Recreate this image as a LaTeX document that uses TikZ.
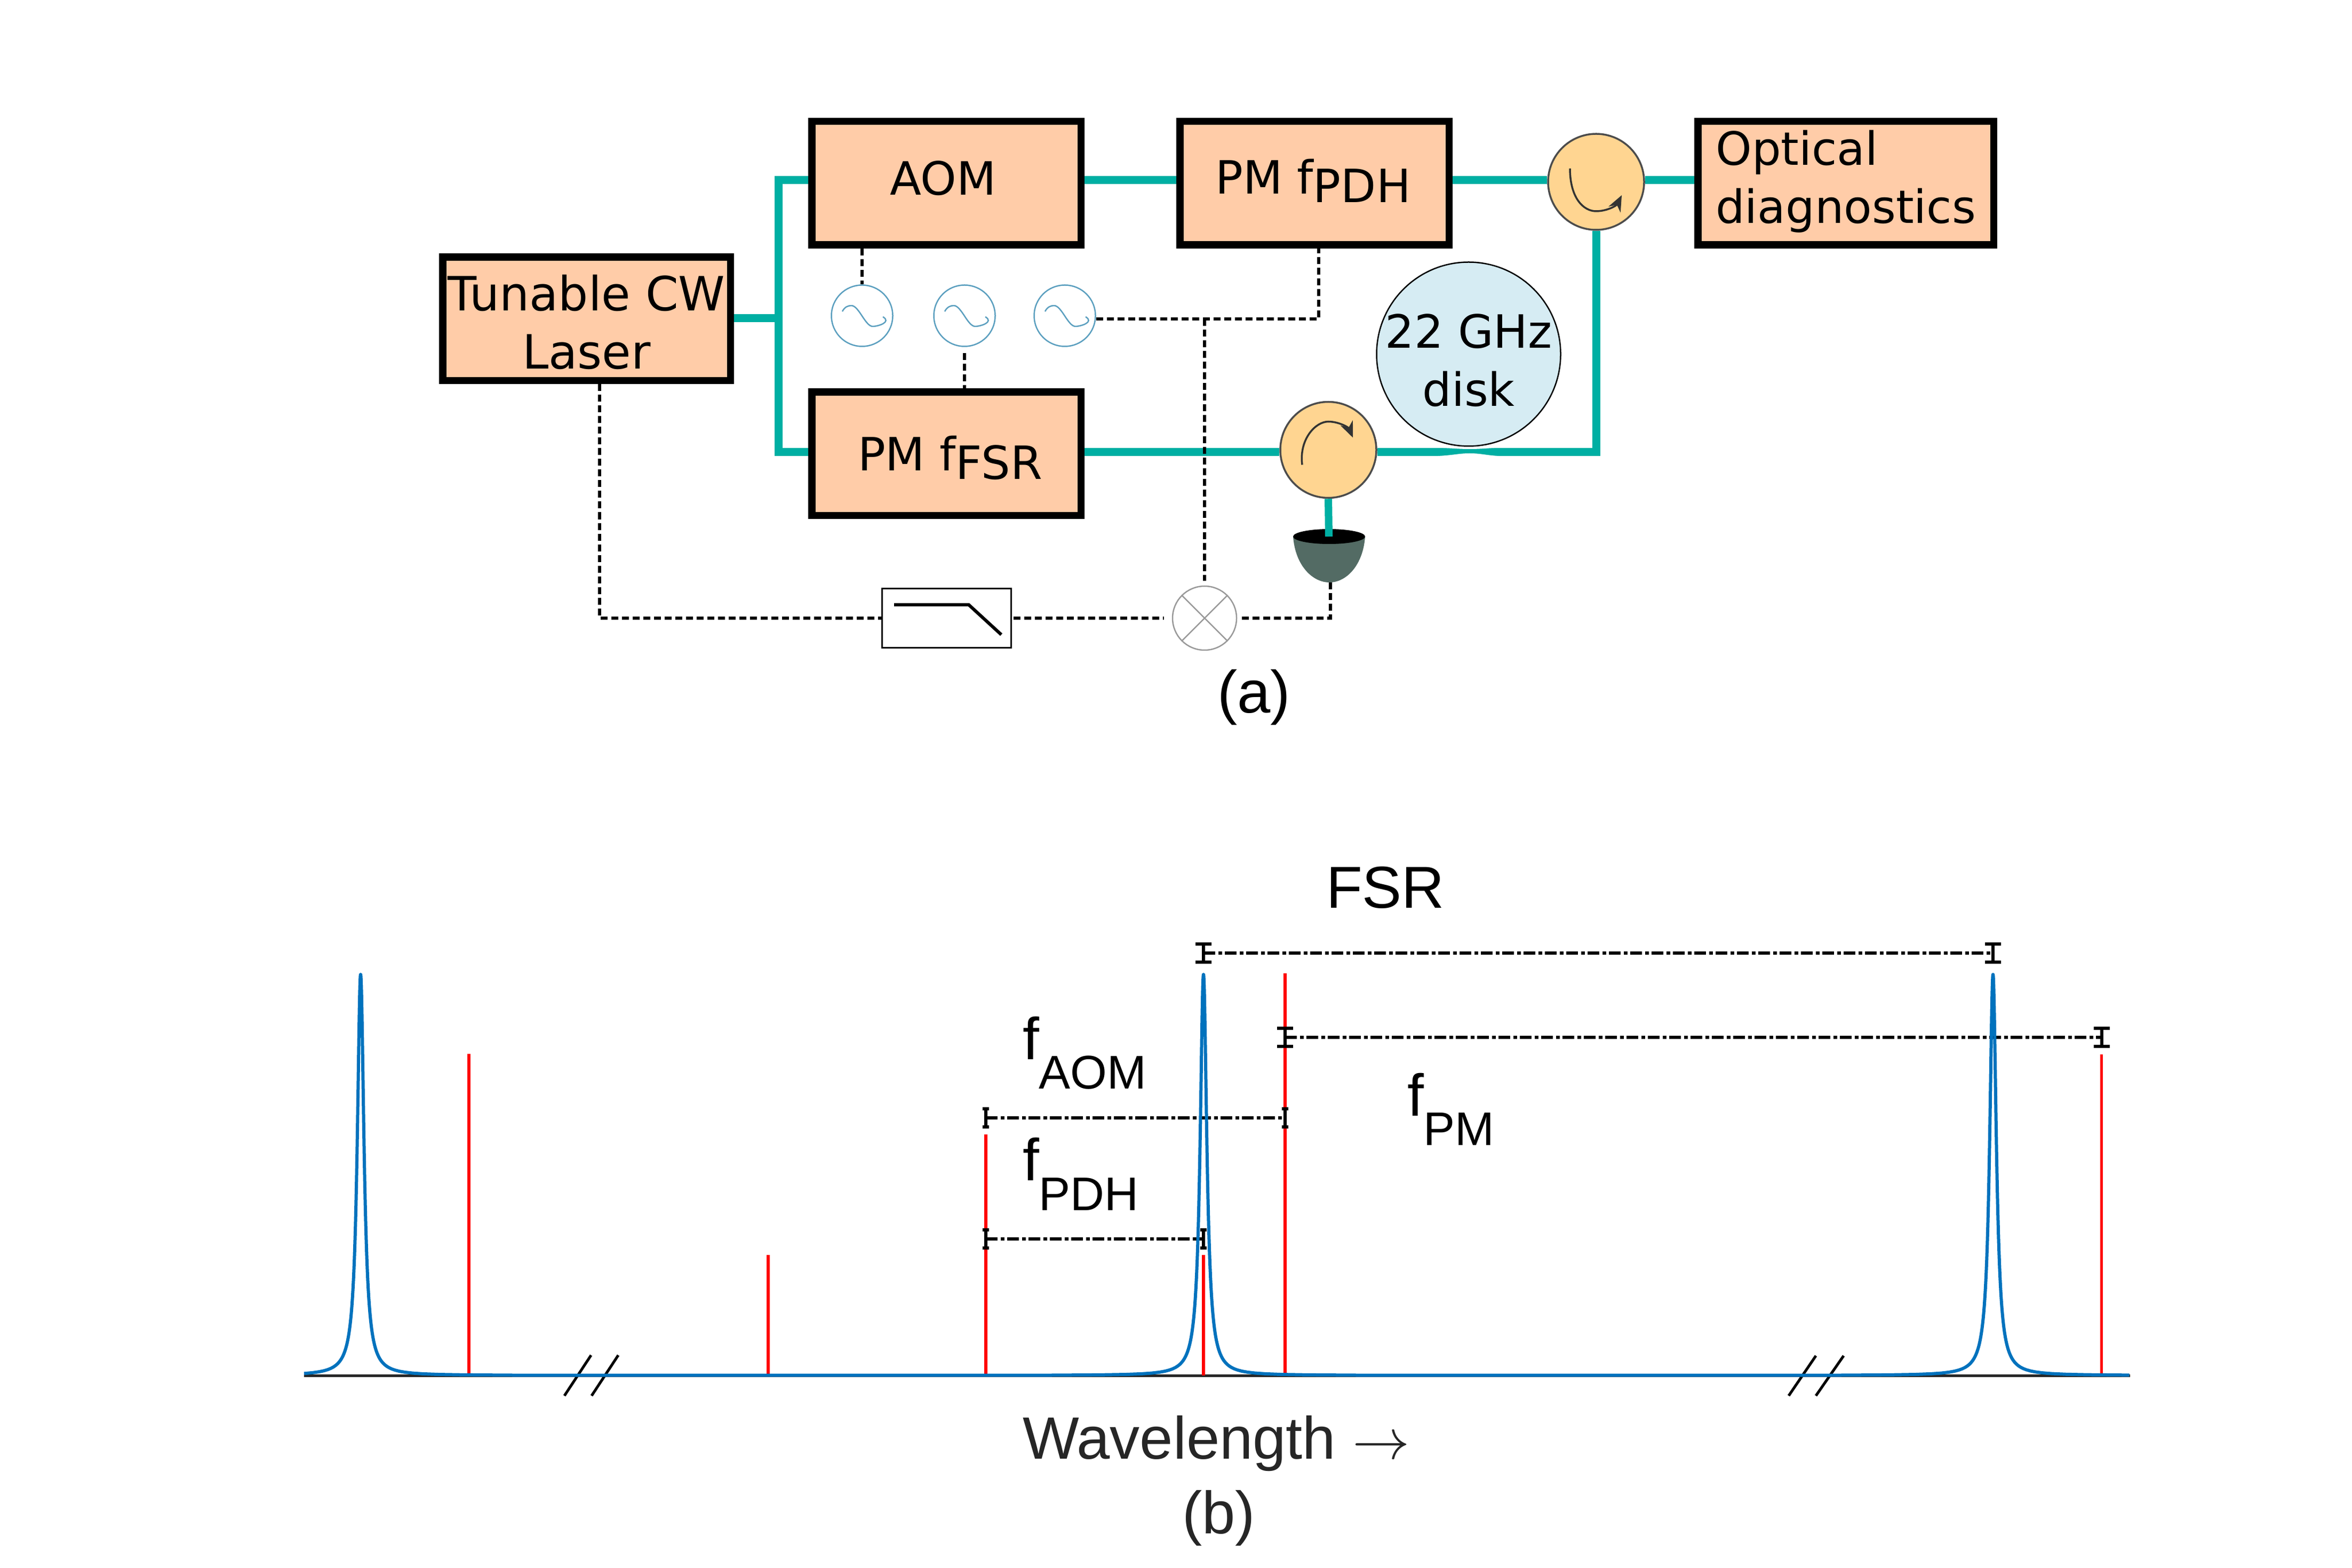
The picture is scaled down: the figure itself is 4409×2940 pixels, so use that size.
\documentclass[tikz,border=0pt]{standalone}
\usepackage{graphicx}
\usepackage{fontspec}
\setmainfont{Liberation Sans}
\newfontfamily\djv{DejaVu Sans}
\usetikzlibrary{arrows.meta,shapes.geometric}
\definecolor{peach}{RGB}{255,204,168}
\definecolor{teal1}{RGB}{0,175,163}
\definecolor{circfill}{RGB}{255,213,145}
\definecolor{diskfill}{RGB}{214,236,243}
\definecolor{detbody}{RGB}{83,107,100}
\definecolor{oscline}{RGB}{91,159,191}
\definecolor{mixline}{RGB}{153,153,153}
\definecolor{peakblue}{RGB}{0,114,189}
\definecolor{labelgray}{RGB}{38,38,38}
\newcommand{\djfont}{\djv\fontsize{17.2}{21.7}\selectfont}
\newcommand{\djlaser}{\djv\fontsize{17.7}{21.8}\selectfont}
\newcommand{\bigf}{\fontsize{22.2}{26}\selectfont}
\newcommand{\smallf}{\fontsize{17.7}{21}\selectfont}
\newcommand{\labf}{\fontsize{22.4}{26}\selectfont}
\newcommand{\bigarrow}{\scalebox{2.15}{\fontsize{10}{12}\selectfont$\rightarrow$}}
\newcommand{\disktext}[1]{\smash{\raisebox{-9.75pt}{#1}}}
\newcommand{\dimcap}[3]{\draw[capbar] (#1-#3,#2-17) -- (#1+#3,#2-17) (#1-#3,#2+17) -- (#1+#3,#2+17) (#1,#2-17) -- (#1,#2+17);}
\tikzset{
  box/.style={draw=black,fill=peach,line width=2.7pt,inner sep=0pt,font=\djfont,minimum height=46.3pt},
  osc/.style={circle,draw=oscline,line width=0.5pt,fill=white,minimum size=23pt,inner sep=0pt},
  sinewave/.style={draw=oscline,line width=0.5pt},
  circulator/.style={circle,draw=black!70,line width=0.7pt,fill=circfill,minimum size=36pt,inner sep=0pt},
  circarrow/.style={draw=black!80,line width=0.7pt,-{Stealth[length=6pt,width=5pt]}},
  fibre/.style={draw=teal1,line width=3pt,line join=miter},
  sig/.style={draw=black,line width=1.05pt,dash pattern=on 2.6pt off 1.4pt},
  redline/.style={draw=red,line width=1.05pt},
  peakline/.style={draw=peakblue,line width=1.2pt,line join=round},
  dimline/.style={draw=black,line width=1.25pt,dash pattern=on 4.4pt off 1.1pt on 1.4pt off 1.1pt},
  capbar/.style={draw=black,line width=1.05pt},
  breakmark/.style={draw=black,line width=1pt},
  txt/.style={inner sep=0pt,anchor=base west},
}
\begin{document}
\begin{tikzpicture}[x=0.2pt,y=-0.2pt]
\useasboundingbox (0,0) rectangle (4409,2940);
% boxes
\node[box,font=\djlaser,minimum width=107.9pt,align=center,text height=37.6pt,text depth=0pt] (laser) at (1099.5,598) {Tunable CW\\Laser};
\node[box,minimum width=100.9pt,text height=9pt,text depth=0pt] (aom) at (1774,343.5) {\hspace*{-2.4pt}AOM};
\node[box,minimum width=100.9pt,text height=12.8pt,text depth=0pt] (fsr) at (1774,851) {\hspace*{2.8pt}PM f\raisebox{-3.2pt}{FSR}};
\node[box,minimum width=100.9pt,text height=8.2pt,text depth=0pt] (pdh) at (2464,343.5) {\hspace*{-1pt}PM f\raisebox{-3.2pt}{PDH}};
\node[box,minimum width=110.9pt,align=left,text height=30pt,text depth=0pt] (opt) at (3460,343.5) {Optical\\diagnostics};
% resonators, circulators
\node[circle,draw=black,line width=0.5pt,fill=diskfill,minimum size=69pt,inner sep=0pt,align=center,font=\djfont,text height=19.5pt,text depth=0pt] (disk) at (2753,664) {\disktext{22 GHz}\\\disktext{disk}};
\node[circulator] (circa) at (2992,341) {};
\node[circulator] (circb) at (2490,843.5) {};
\draw[circarrow] ([shift={(-49,-25)}]circa.center) .. controls +(0,55) and +(-24,0) .. ([shift={(0,55)}]circa.center) .. controls +(20,0) and +(-10,20) .. ([shift={(48,25)}]circa.center);
\draw[circarrow] ([shift={(-49,28)}]circb.center) .. controls +(-6,-48) and +(-24,0) .. ([shift={(0,-53)}]circb.center) .. controls +(20,0) and +(-8,-19) .. ([shift={(46,-23)}]circb.center);
% oscillators
\node[osc] (oa) at (1616,592) {};
\node[osc] (ob) at (1808,592) {};
\node[osc] (oc) at (1996,592) {};
\foreach \o in {oa,ob,oc}{
  \draw[sinewave] ([shift={(-37,-8)}]\o.center) .. controls +(4,-8) and +(-7,0) .. ([shift={(-20,-19)}]\o.center) .. controls +(14,0) and +(-14,0) .. ([shift={(20,20)}]\o.center) .. controls +(10,0) and +(17,10) .. ([shift={(39,2)}]\o.center);
}
% detector
\coordinate (detb) at (2494,1092);
\fill[detbody] (2424,1006) .. controls (2428,1060) and (2460,1092) .. (2492,1092) .. controls (2524,1092) and (2555,1060) .. (2559,1006) -- cycle;
\node[ellipse,fill=black,minimum width=27pt,minimum height=5.6pt,inner sep=0pt] (det) at (2491.5,1006) {};
% filter and mixer
\node[draw=black,line width=0.6pt,fill=white,minimum width=48.4pt,minimum height=22.2pt,inner sep=0pt] (filt) at (1774,1159) {};
\draw[line width=1.2pt,line join=miter] ([shift={(-98,-25)}]filt.center) -- ([shift={(42,-25)}]filt.center) -- ([shift={(103,31)}]filt.center);
\node[circle,draw=mixline,line width=0.5pt,fill=white,minimum size=24pt,inner sep=0pt] (mix) at (2258,1159) {};
\draw[mixline,line width=0.5pt] (mix.45) -- (mix.225) (mix.135) -- (mix.315);
% fibre
\coordinate (top) at (0,338);
\coordinate (bot) at (0,847.5);
\coordinate (j) at (1459,597);
\draw[fibre] (aom.west|-top) -- (j|-top) -- (j|-bot) -- (fsr.west|-bot);
\draw[fibre] (laser.east|-j) -- (j);
\draw[fibre] (aom.east|-top) -- (pdh.west|-top);
\draw[fibre] (pdh.east|-top) -- (circa.west|-top);
\draw[fibre] (circa.east|-top) -- (opt.west|-top);
\draw[fibre] (fsr.east|-bot) -- (circb.west|-bot);
\draw[fibre] (circb.east|-bot) -- (circa.south|-bot) -- (circa.south);
\draw[fibre,line width=2.8pt] (circb.south) -- (2491,1006);
\fill[white] (2673,839.5) .. controls (2720,839.5) and (2730,842) .. (2755,842) .. controls (2780,842) and (2790,839.5) .. (2827,839.5) -- cycle;
\fill[white] (2673,855.5) .. controls (2720,855.5) and (2730,850) .. (2755,850) .. controls (2780,850) and (2790,855.5) .. (2827,855.5) -- cycle;
% signal lines
\coordinate (lp) at (1124,1159);
\coordinate (s) at (2258,598);
\coordinate (pd) at (2472,598);
\draw[sig] (laser.south-|lp) |- (filt.west);
\draw[sig,shorten >=3pt,shorten <=0.6pt] (filt.east) -- (mix.west);
\draw[sig,shorten >=0.6pt] (detb) |- (mix.east);
\draw[sig,shorten >=1.8pt] (s) -- (mix.north);
\draw[sig] (oc.east|-s) -- (pd) -- (pdh.south-|pd);
\draw[sig,xshift=-0.6pt] (aom.south-|oa) -- (oa.north);
\draw[sig,shorten <=2.2pt] (ob.south) -- (fsr.north-|ob);
% labels a
\node[txt] (lba) at (2281,1337) {\labf (a)};
% plot
\draw[draw=labelgray,line width=1.1pt] (570,2579.5) -- (3993,2579.5);
\draw[breakmark] (1058,2617) -- (1108,2541) (1109,2617) -- (1159,2541);
\draw[breakmark] (3353,2617) -- (3404,2542) (3404,2617) -- (3456,2542);
\draw[redline] (879,2579) -- (879,1976);
\draw[redline] (1440,2579) -- (1440,2353);
\draw[redline] (1848,2579) -- (1848,2127);
\draw[redline] (2256,2579) -- (2256,2353);
\draw[redline] (2409,2579) -- (2409,1825);
\draw[redline] (3939.5,2579) -- (3939.5,1977);
% dimensions
\coordinate (fa) at (2256,1787);
\coordinate (fb) at (3736,1787);
\coordinate (pa) at (2409,1945);
\coordinate (pb) at (3940,1945);
\coordinate (aa) at (1848,2096);
\coordinate (ab) at (2409,2096);
\coordinate (da) at (1848,2323);
\coordinate (db) at (2256,2323);
\draw[dimline] (fa) -- (fb);
\draw[dimline] (pa) -- (pb);
\draw[dimline] (aa) -- (ab);
\draw[dimline] (da) -- (db);
\dimcap{2256}{1787}{15}
\dimcap{3736}{1787}{15}
\dimcap{2409}{1945}{15}
\dimcap{3940}{1945}{15}
\dimcap{1848}{2096}{6}
\dimcap{2409}{2096}{6}
\dimcap{1848}{2323}{6}
\dimcap{2256}{2323}{6}
% peaks
\draw[peakline] plot[domain=-85.95:88.5,samples=241] ({676+7.5*tan(\x)},{2579-752*cos(\x)^2})
  -- plot[domain=-88.5:88.5,samples=241] ({2256+7.5*tan(\x)},{2579-752*cos(\x)^2})
  -- plot[domain=-88.5:88.32,samples=241] ({3736+7.5*tan(\x)},{2579-752*cos(\x)^2});
% labels b
\node[txt] (lfsr) at (2485,1702) {\bigf FSR};
\node[txt] (laom) at (1916,1986) {\bigf f\raisebox{-11.1pt}{\smallf AOM}};
\node[txt] (lpdh) at (1916,2213) {\bigf f\raisebox{-11.2pt}{\smallf PDH}};
\node[txt] (lpm) at (2637,2092.5) {\bigf f\raisebox{-10.9pt}{\smallf PM}};
\node[txt,text=labelgray] (lw) at (1916,2735) {\labf Wavelength \bigarrow};
\node[txt,text=labelgray] (lbb) at (2215,2875) {\labf (b)};
\end{tikzpicture}
\end{document}
